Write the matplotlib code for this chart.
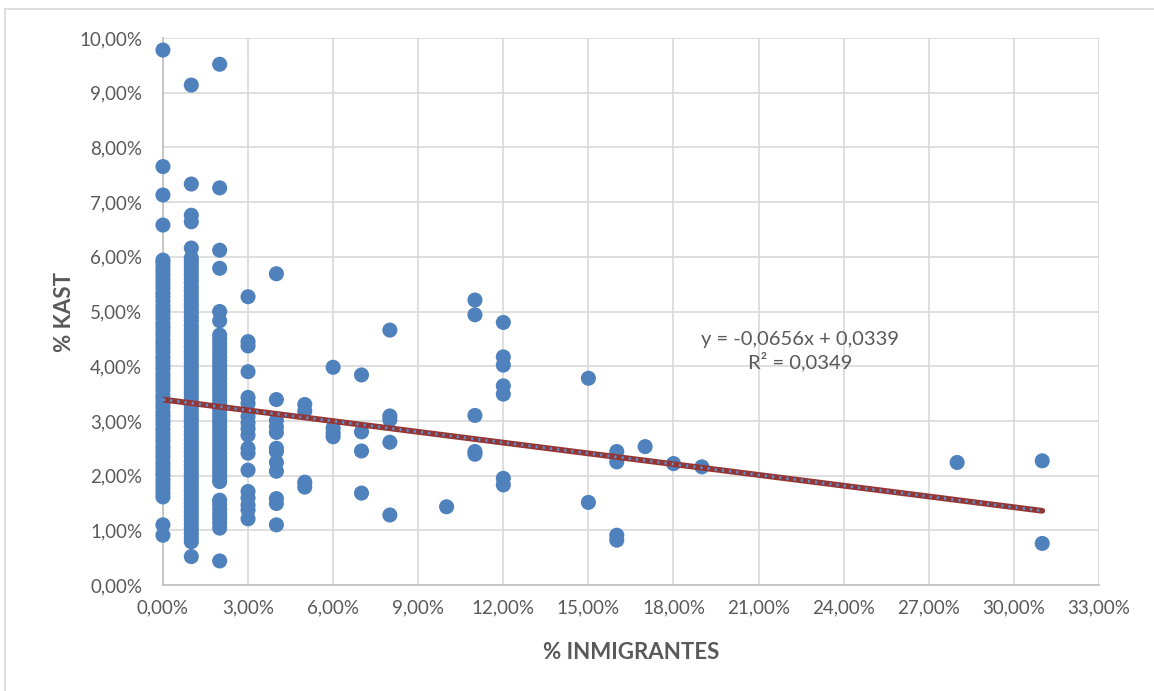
import numpy as np
import matplotlib.pyplot as plt
from matplotlib.ticker import FuncFormatter, MultipleLocator
from matplotlib.lines import Line2D

# % inmigrantes (x) -> list of % KAST values (y)
x0_vals = [9.78, 7.65, 7.13, 6.58,
           5.94, 5.89, 5.81, 5.74, 5.66, 5.58, 5.51, 5.43, 5.34, 5.27, 5.19, 5.10,
           5.03, 4.95, 4.88, 4.79, 4.72, 4.64, 4.57, 4.48, 4.41, 4.33, 4.26, 4.17,
           4.10, 4.02, 3.95, 3.86, 3.79, 3.71, 3.63, 3.56, 3.47, 3.40, 3.32, 3.25,
           3.16, 3.09, 3.01, 2.94, 2.85, 2.78, 2.70, 2.63, 2.54, 2.47, 2.39, 2.32,
           2.23, 2.16, 2.08, 2.01, 1.92, 1.85, 1.77, 1.69, 1.61, 1.10, 0.91]
x1_vals = [9.14, 7.33, 6.76, 6.64, 6.16,
           5.98, 5.91, 5.83, 5.76, 5.68, 5.60, 5.53, 5.44, 5.37, 5.29, 5.21, 5.13,
           5.06, 4.98, 4.90, 4.83, 4.74, 4.67, 4.59, 4.51, 4.44, 4.36, 4.28, 4.20,
           4.13, 4.05, 3.97, 3.90, 3.82, 3.74, 3.66, 3.59, 3.51, 3.43, 3.35, 3.28,
           3.20, 3.12, 3.05, 2.97, 2.89, 2.81, 2.74, 2.66, 2.58, 2.50, 2.43, 2.35,
           2.27, 2.19, 2.12, 2.04, 1.96, 1.88, 1.81, 1.73, 1.65, 1.57, 1.50, 1.42,
           1.34, 1.26, 1.19, 1.11, 1.03, 0.95, 0.87, 0.79, 0.52]
x2_vals = [9.52, 7.26, 6.12, 5.79, 5.00, 4.83,
           4.57, 4.49, 4.41, 4.33, 4.25, 4.17, 4.09, 4.01, 3.93, 3.85, 3.77, 3.69,
           3.61, 3.53, 3.45, 3.37, 3.29, 3.21, 3.13, 3.05, 2.97, 2.89, 2.81, 2.73,
           2.65, 2.57, 2.49, 2.41, 2.33, 2.25, 2.17, 2.09, 2.01, 1.94, 1.89,
           1.55, 1.47, 1.39, 1.30, 1.22, 1.13, 1.04, 0.44]
x3_vals = [5.27, 4.45, 4.37, 3.90, 3.43, 3.32, 3.08, 2.96, 2.86, 2.74, 2.50,
           2.41, 2.10, 1.71, 1.59, 1.46, 1.37, 1.21]
x4_vals = [5.69, 3.39, 3.01, 2.89, 2.79, 2.50, 2.44, 2.24, 2.08, 1.58, 1.49, 1.10]
other = {
    5: [3.30, 3.18, 1.88, 1.79],
    6: [3.98, 2.87, 2.78, 2.71],
    7: [3.84, 2.80, 2.45, 1.68],
    8: [4.66, 3.09, 3.02, 2.61, 1.28],
    10: [1.43],
    11: [5.21, 4.94, 3.10, 2.44, 2.39],
    12: [4.80, 4.17, 4.02, 3.64, 3.49, 1.95, 1.83],
    15: [3.78, 1.51],
    16: [2.44, 2.25, 0.91, 0.82],
    17: [2.53],
    18: [2.22],
    19: [2.16],
    28: [2.24],
    31: [2.27, 0.76],
}

# trendline from the chart's equation
slope = -0.0656
intercept = 0.0339
trend_x = [0.0, 0.31]

groups = {0: x0_vals, 1: x1_vals, 2: x2_vals, 3: x3_vals, 4: x4_vals}
groups.update(other)
xs, ys = [], []
for k, vals in groups.items():
    xs += [k / 100.0] * len(vals)
    ys += [v / 100.0 for v in vals]

plt.rcParams['font.family'] = ['Lato', 'DejaVu Sans']
gray = '#595959'

fig = plt.figure(figsize=(11.54, 6.91), dpi=100)
ax = fig.add_axes([0.1412, 0.1534, 0.8111, 0.7916])

ax.scatter(xs, ys, s=118, color='#4F81BD', edgecolors='none', zorder=3, clip_on=False)

ty = [slope * t + intercept for t in trend_x]
ax.plot(trend_x, ty, color='#943634', lw=4.2, solid_capstyle='round', zorder=4)
ax.plot(trend_x, ty, color='#5B8FD0', lw=2.0, linestyle=(0, (0.8, 1.8)), zorder=5)

ax.set_xlim(0, 0.33)
ax.set_ylim(0, 0.10)
ax.xaxis.set_major_locator(MultipleLocator(0.03))
ax.yaxis.set_major_locator(MultipleLocator(0.01))
fmt = FuncFormatter(lambda v, p: ('%.2f%%' % (v * 100)).replace('.', ','))
ax.xaxis.set_major_formatter(fmt)
ax.yaxis.set_major_formatter(fmt)
ax.grid(True, color='#D9D9D9', lw=1.2, zorder=0)
ax.set_axisbelow(True)
for side in ['top', 'right']:
    ax.spines[side].set_visible(False)
for side in ['left', 'bottom']:
    ax.spines[side].set_color('#BFBFBF')
    ax.spines[side].set_linewidth(1.2)
ax.tick_params(length=0, labelsize=13.5, labelcolor=gray)
ax.tick_params(axis='y', pad=15)
ax.tick_params(axis='x', pad=10)

ax.set_xlabel('% INMIGRANTES', fontsize=16, fontweight='bold', color=gray, labelpad=19)
ax.set_ylabel('% KAST', fontsize=16, fontweight='bold', color=gray, labelpad=3)

ax.text(0.2245, 0.0427, 'y = -0,0656x + 0,0339\nR² = 0,0349', ha='center', va='center',
        fontsize=14.5, color=gray, linespacing=1.2, zorder=6)

# chart area border
fig.add_artist(Line2D([5 / 1154, 1.0], [1 - 9 / 691, 1 - 9 / 691], color='#D9D9D9', lw=1.2))
fig.add_artist(Line2D([5 / 1154, 5 / 1154], [0, 1 - 9 / 691], color='#D9D9D9', lw=1.2))

fig.savefig('out.png', dpi=100)
